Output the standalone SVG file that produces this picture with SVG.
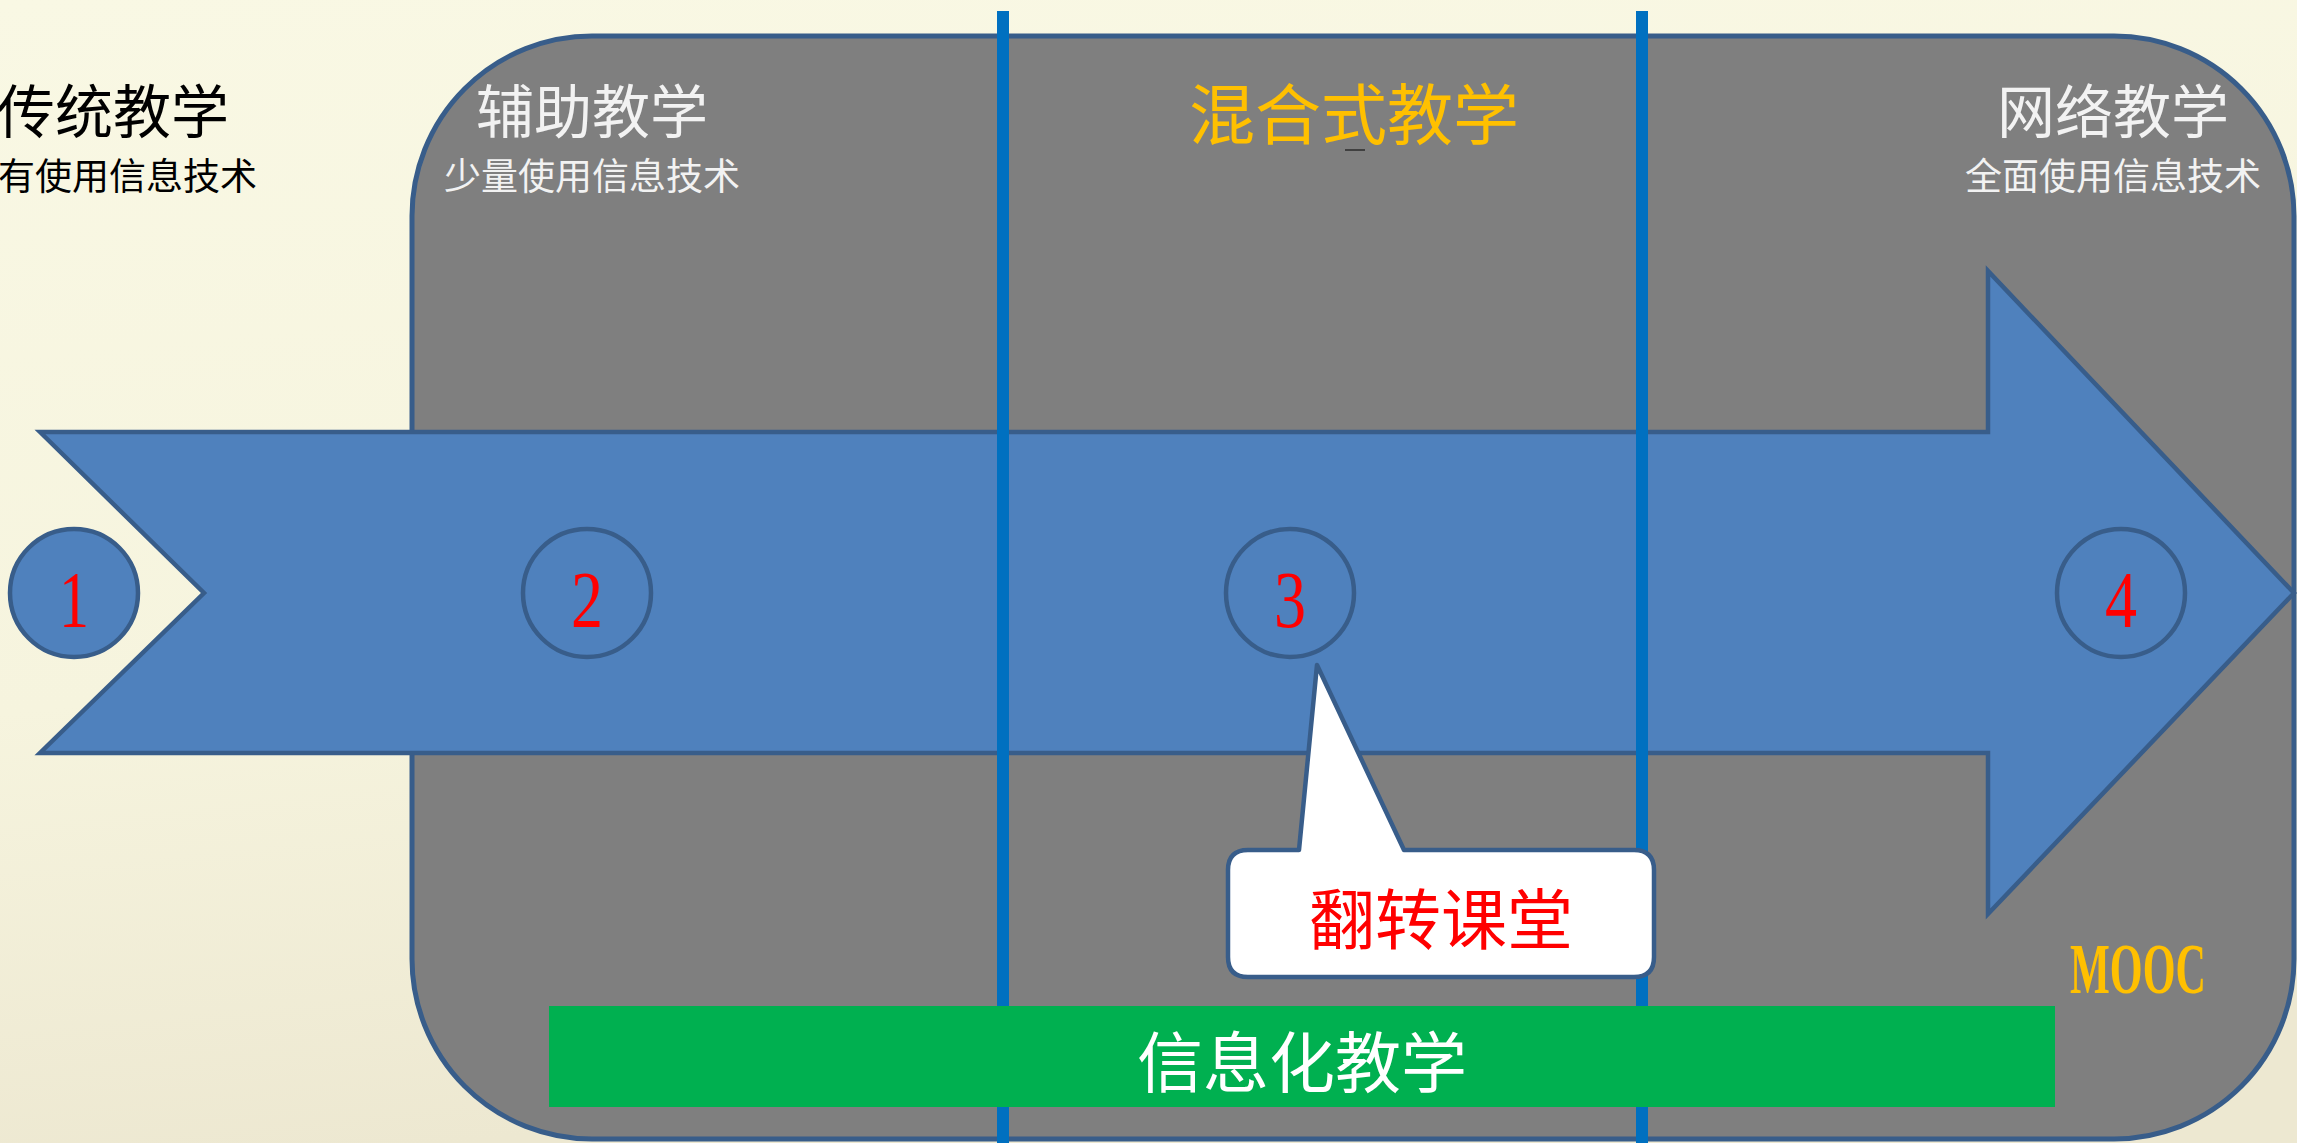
<svg xmlns="http://www.w3.org/2000/svg" width="2297" height="1143" viewBox="0 0 2297 1143">
<defs>
<linearGradient id="bg" x1="0" y1="0" x2="0.2" y2="1">
<stop offset="0" stop-color="#F9F8E4"/>
<stop offset="0.6" stop-color="#F6F4DE"/>
<stop offset="1" stop-color="#EDE8D1"/>
</linearGradient>
<style>
.cjk{font-family:"Noto Sans CJK SC","Noto Sans",sans-serif;}
.num{font-family:"Liberation Serif",serif;fill:#FF0000;font-size:80px;text-anchor:middle;}
.vline{fill:#0070C0;}
.circ{fill:#4F81BD;stroke:#385D8A;stroke-width:4.5;}
</style>
</defs>
<rect x="0" y="0" width="2297" height="1143" fill="url(#bg)"/>
<g id="panel">
<rect x="412" y="36" width="1882" height="1103" rx="180" ry="180" fill="#7F7F7F" stroke="#385D8A" stroke-width="5"/>
</g>
<g id="arrow">
<polygon points="40,432 204,593 40,753 1988,753 1988,914 2294,593 1988,271 1988,432" fill="#4F81BD" stroke="#385D8A" stroke-width="4.5" stroke-linejoin="miter"/>
</g>
<g id="step1"><ellipse class="circ" cx="74" cy="593" rx="64" ry="64"/><text class="num" x="74" y="627" textLength="30" lengthAdjust="spacingAndGlyphs">1</text></g>
<g id="step2"><ellipse class="circ" cx="587" cy="593" rx="64" ry="64"/><text class="num" x="587" y="627" textLength="32" lengthAdjust="spacingAndGlyphs">2</text></g>
<g id="step3"><ellipse class="circ" cx="1290" cy="593" rx="64" ry="64"/><text class="num" x="1290" y="627" textLength="32" lengthAdjust="spacingAndGlyphs">3</text></g>
<g id="step4"><ellipse class="circ" cx="2121" cy="593" rx="64" ry="64"/><text class="num" x="2121" y="627" textLength="32" lengthAdjust="spacingAndGlyphs">4</text></g>
<g id="connectors">
<rect class="vline" x="997" y="11" width="12" height="1132"/>
<rect class="vline" x="1636" y="11" width="12" height="1132"/>
</g>
<g id="callout">
<path d="M1248,850 L1299,850 L1317,665 L1404,850 L1634,850 Q1654,850 1654,870 L1654,957 Q1654,977 1634,977 L1248,977 Q1228,977 1228,957 L1228,870 Q1228,850 1248,850 Z" fill="#FFFFFF" stroke="#385D8A" stroke-width="4.5" stroke-linejoin="round"/>
<text class="cjk" x="1441" y="944" font-size="66" fill="#FF0000" text-anchor="middle">翻转课堂</text>
</g>
<g id="infobar">
<rect x="549" y="1006" width="1506" height="101" fill="#00B050"/>
<text class="cjk" x="1302" y="1087" font-size="66" fill="#FFFFFF" text-anchor="middle">信息化教学</text>
</g>
<g id="traditional">
<text class="cjk" x="-3" y="133" font-size="58" fill="#000000">传统教学</text>
<text class="cjk" x="-2" y="190" font-size="37" fill="#000000">有使用信息技术</text>
</g>
<g id="assisted">
<text class="cjk" x="592" y="133" font-size="58" fill="#F2F2F2" text-anchor="middle">辅助教学</text>
<text class="cjk" x="592" y="190" font-size="37" fill="#F2F2F2" text-anchor="middle">少量使用信息技术</text>
</g>
<g id="blended">
<text class="cjk" x="1354" y="139" font-size="66" fill="#FFC000" text-anchor="middle">混合式教学</text>
<rect x="1345" y="149" width="20" height="2" fill="#404040"/>
</g>
<g id="online">
<text class="cjk" x="2113" y="133" font-size="58" fill="#F2F2F2" text-anchor="middle">网络教学</text>
<text class="cjk" x="2113" y="190" font-size="37" fill="#F2F2F2" text-anchor="middle">全面使用信息技术</text>
</g>
<g id="mooc">
<text transform="translate(2070,993) scale(0.586,1)" x="0" y="0" font-family="Liberation Serif, serif" font-size="72" font-weight="bold" fill="#FFC000">MOOC</text>
</g>
</svg>
